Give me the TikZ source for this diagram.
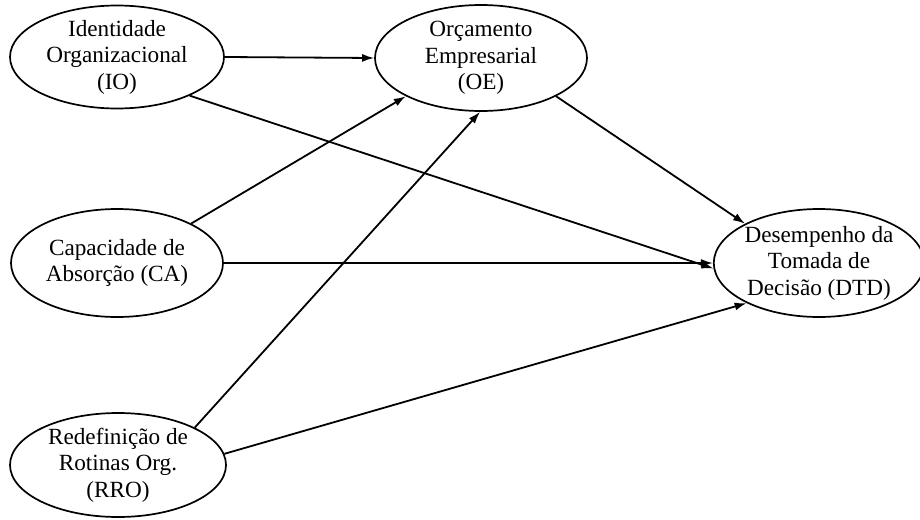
\documentclass[tikz,border=0pt]{standalone}
\usepackage{fontspec}
\setmainfont{Liberation Serif}
\usetikzlibrary{shapes.geometric,arrows.meta}

\begin{document}
\begin{tikzpicture}[
  x=1pt, y=-1pt,
  construct/.style={draw, ellipse, line width=1.7pt, inner xsep=0pt,
                    inner ysep=-5pt, minimum width=212pt, minimum height=105pt,
                    align=center, font=\fontsize{23.2}{26.5}\selectfont},
  path/.style={-{Latex[length=12pt,width=8pt]}, line width=1.8pt}
]
\useasboundingbox (0,0) rectangle (920,519);

\node[construct, minimum width=214pt, minimum height=103pt] (IO) at (117,57)
  {Identidade\\Organizacional\\(IO)};
\node[construct, minimum height=106pt] (OE) at (481,58)
  {Orçamento\\Empresarial\\(OE)};
\node[construct, minimum height=108pt] (CA) at (117,263)
  {Capacidade de\\Absorção (CA)};
\node[construct, minimum width=216pt, minimum height=104pt] (RRO) at (118,465)
  {Redefinição de\\Rotinas Org.\\(RRO)};
\node[construct, minimum width=198pt, minimum height=108pt] (DTD) at (819,263)
  {Desempenho da\\Tomada de\\Decisão (DTD)};

\draw[path] (IO.east) -- (OE.west);
\draw[path] (IO.-28) -- (DTD.183);
\draw[path] (CA.28) -- (OE.-153);
\draw[path] (CA.east) -- (DTD.west);
\draw[path] (RRO.26) -- (OE.-91);
\draw[path] (RRO.6) -- (DTD.-151);
\draw[path] (OE.-27) -- (DTD.152);

\end{tikzpicture}
\end{document}
